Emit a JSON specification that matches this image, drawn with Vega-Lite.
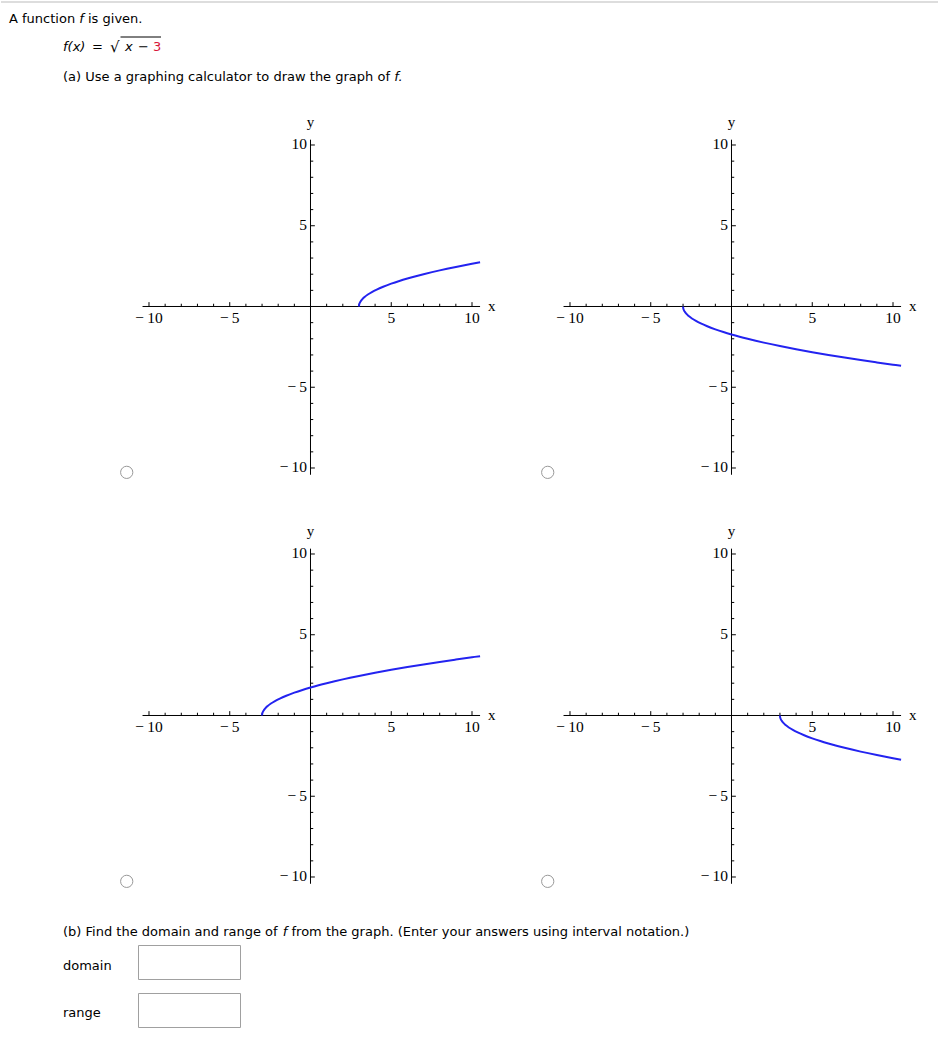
{
"$schema": "https://vega.github.io/schema/vega-lite/v6.json",
"padding": 0,
"background": "#ffffff",
"spacing": 0,
"bounds": "flush",
"align": "each",
"columns": 2,
"config": {"view": {"stroke": null}},
"datasets": {
"ticks": [{"v":-10},{"v":-9},{"v":-8},{"v":-7},{"v":-6},{"v":-5},{"v":-4},{"v":-3},{"v":-2},{"v":-1},{"v":1},{"v":2},{"v":3},{"v":4},{"v":5},{"v":6},{"v":7},{"v":8},{"v":9},{"v":10}],
"labels": [{"v":-10,"t":"−\u200910"},{"v":-5,"t":"−\u20095"},{"v":5,"t":"5"},{"v":10,"t":"10"}],
"curves": [
{"p":1,"x":3,"y":0},{"p":1,"x":3.01,"y":0.1},{"p":1,"x":3.04,"y":0.2},{"p":1,"x":3.1,"y":0.316},{"p":1,"x":3.2,"y":0.447},{"p":1,"x":3.35,"y":0.592},{"p":1,"x":3.55,"y":0.742},{"p":1,"x":3.8,"y":0.894},{"p":1,"x":4.1,"y":1.049},{"p":1,"x":4.5,"y":1.225},{"p":1,"x":5,"y":1.414},{"p":1,"x":5.5,"y":1.581},{"p":1,"x":6,"y":1.732},{"p":1,"x":7,"y":2},{"p":1,"x":8,"y":2.236},{"p":1,"x":9,"y":2.449},{"p":1,"x":10,"y":2.646},{"p":1,"x":10.5,"y":2.739},
{"p":4,"x":3,"y":0},{"p":4,"x":3.01,"y":-0.1},{"p":4,"x":3.04,"y":-0.2},{"p":4,"x":3.1,"y":-0.316},{"p":4,"x":3.2,"y":-0.447},{"p":4,"x":3.35,"y":-0.592},{"p":4,"x":3.55,"y":-0.742},{"p":4,"x":3.8,"y":-0.894},{"p":4,"x":4.1,"y":-1.049},{"p":4,"x":4.5,"y":-1.225},{"p":4,"x":5,"y":-1.414},{"p":4,"x":5.5,"y":-1.581},{"p":4,"x":6,"y":-1.732},{"p":4,"x":7,"y":-2},{"p":4,"x":8,"y":-2.236},{"p":4,"x":9,"y":-2.449},{"p":4,"x":10,"y":-2.646},{"p":4,"x":10.5,"y":-2.739},
{"p":3,"x":-3,"y":0},{"p":3,"x":-2.99,"y":0.1},{"p":3,"x":-2.96,"y":0.2},{"p":3,"x":-2.9,"y":0.316},{"p":3,"x":-2.8,"y":0.447},{"p":3,"x":-2.65,"y":0.592},{"p":3,"x":-2.45,"y":0.742},{"p":3,"x":-2.2,"y":0.894},{"p":3,"x":-1.9,"y":1.049},{"p":3,"x":-1.5,"y":1.225},{"p":3,"x":-1,"y":1.414},{"p":3,"x":-0.5,"y":1.581},{"p":3,"x":0,"y":1.732},{"p":3,"x":0.5,"y":1.871},{"p":3,"x":1,"y":2},{"p":3,"x":1.5,"y":2.121},{"p":3,"x":2,"y":2.236},{"p":3,"x":3,"y":2.449},{"p":3,"x":4,"y":2.646},{"p":3,"x":5,"y":2.828},{"p":3,"x":6,"y":3},{"p":3,"x":7,"y":3.162},{"p":3,"x":8,"y":3.317},{"p":3,"x":9,"y":3.464},{"p":3,"x":10,"y":3.606},{"p":3,"x":10.5,"y":3.674},
{"p":2,"x":-3,"y":0},{"p":2,"x":-2.99,"y":-0.1},{"p":2,"x":-2.96,"y":-0.2},{"p":2,"x":-2.9,"y":-0.316},{"p":2,"x":-2.8,"y":-0.447},{"p":2,"x":-2.65,"y":-0.592},{"p":2,"x":-2.45,"y":-0.742},{"p":2,"x":-2.2,"y":-0.894},{"p":2,"x":-1.9,"y":-1.049},{"p":2,"x":-1.5,"y":-1.225},{"p":2,"x":-1,"y":-1.414},{"p":2,"x":-0.5,"y":-1.581},{"p":2,"x":0,"y":-1.732},{"p":2,"x":0.5,"y":-1.871},{"p":2,"x":1,"y":-2},{"p":2,"x":1.5,"y":-2.121},{"p":2,"x":2,"y":-2.236},{"p":2,"x":3,"y":-2.449},{"p":2,"x":4,"y":-2.646},{"p":2,"x":5,"y":-2.828},{"p":2,"x":6,"y":-3},{"p":2,"x":7,"y":-3.162},{"p":2,"x":8,"y":-3.317},{"p":2,"x":9,"y":-3.464},{"p":2,"x":10,"y":-3.606},{"p":2,"x":10.5,"y":-3.674}
]
},
"concat": [
{
"width": 421, "height": 100,
"data": {"values": [{}]},
"layer": [
{"mark": {"type": "rule", "color": "#dddddd", "strokeWidth": 2}, "encoding": {"x": {"value": 0}, "x2": {"value": 938}, "y": {"value": 2}}},
{"mark": {"type": "text", "text": "A function", "font": "DejaVu Sans", "fontSize": 13, "color": "#000000", "align": "left", "baseline": "alphabetic"}, "encoding": {"x": {"value": 8}, "y": {"value": 23}}},
{"mark": {"type": "text", "text": "f", "font": "DejaVu Sans", "fontStyle": "italic", "fontSize": 13, "color": "#000000", "align": "left", "baseline": "alphabetic"}, "encoding": {"x": {"value": 78.3}, "y": {"value": 23}}},
{"mark": {"type": "text", "text": "is given.", "font": "DejaVu Sans", "fontSize": 13, "color": "#000000", "align": "left", "baseline": "alphabetic"}, "encoding": {"x": {"value": 87}, "y": {"value": 23}}},
{"mark": {"type": "text", "text": "f(x)", "font": "DejaVu Sans", "fontStyle": "italic", "fontSize": 13, "color": "#000000", "align": "left", "baseline": "alphabetic"}, "encoding": {"x": {"value": 62}, "y": {"value": 51}}},
{"mark": {"type": "text", "text": "=", "font": "DejaVu Sans", "fontSize": 13, "color": "#000000", "align": "left", "baseline": "alphabetic"}, "encoding": {"x": {"value": 91}, "y": {"value": 51}}},
{"mark": {"type": "text", "text": "√", "font": "DejaVu Sans", "fontSize": 15, "color": "#000000", "align": "left", "baseline": "alphabetic"}, "encoding": {"x": {"value": 109}, "y": {"value": 52}}},
{"mark": {"type": "rule", "color": "#000000", "strokeWidth": 1}, "encoding": {"x": {"value": 119.5}, "x2": {"value": 160}, "y": {"value": 37}}},
{"mark": {"type": "text", "text": "x", "font": "DejaVu Sans", "fontStyle": "italic", "fontSize": 13, "color": "#000000", "align": "left", "baseline": "alphabetic"}, "encoding": {"x": {"value": 124}, "y": {"value": 51}}},
{"mark": {"type": "text", "text": "−", "font": "DejaVu Sans", "fontSize": 13, "color": "#000000", "align": "left", "baseline": "alphabetic"}, "encoding": {"x": {"value": 137}, "y": {"value": 51}}},
{"mark": {"type": "text", "text": "3", "font": "DejaVu Sans", "fontSize": 13, "color": "#d8173b", "align": "left", "baseline": "alphabetic"}, "encoding": {"x": {"value": 152}, "y": {"value": 51}}},
{"mark": {"type": "text", "text": "(a) Use a graphing calculator to draw the graph of", "font": "DejaVu Sans", "fontSize": 13, "color": "#000000", "align": "left", "baseline": "alphabetic"}, "encoding": {"x": {"value": 62}, "y": {"value": 81}}},
{"mark": {"type": "text", "text": "f.", "font": "DejaVu Sans", "fontStyle": "italic", "fontSize": 13, "color": "#000000", "align": "left", "baseline": "alphabetic"}, "encoding": {"x": {"value": 393.2}, "y": {"value": 81}}}
]
},
{
"width": 10, "height": 10,
"data": {"values": [{}]},
"mark": {"type": "rule", "color": "#ffffff", "strokeWidth": 1, "opacity": 0},
"encoding": {"x": {"value": 2}, "x2": {"value": 4}, "y": {"value": 5}}
},
{
"width": 421, "height": 409,
"layer": [
{"data":{"values":[{}]},"mark":{"type":"rule","color":"#000000","strokeWidth":1},"encoding":{"x":{"datum":-10.4,"type":"quantitative","scale":{"domain":[-19.164,6.904],"nice":false,"zero":false},"axis":null},"x2":{"datum":10.5},"y":{"datum":0,"type":"quantitative","scale":{"domain":[-12.539,12.786],"nice":false,"zero":false},"axis":null}}},
{"data":{"values":[{}]},"mark":{"type":"rule","color":"#000000","strokeWidth":1},"encoding":{"x":{"datum":0,"type":"quantitative","scale":{"domain":[-19.164,6.904],"nice":false,"zero":false},"axis":null},"y":{"datum":-10.42,"type":"quantitative","scale":{"domain":[-12.539,12.786],"nice":false,"zero":false},"axis":null},"y2":{"datum":10.33}}},
{"data":{"name":"ticks"},"transform":[{"filter":"datum.v % 5 != 0"}],"mark":{"type":"rule","color":"#000000","strokeWidth":1},"encoding":{"x":{"field":"v","type":"quantitative","scale":{"domain":[-19.164,6.904],"nice":false,"zero":false},"axis":null},"y":{"datum":0,"type":"quantitative","scale":{"domain":[-12.539,12.786],"nice":false,"zero":false},"axis":null},"y2":{"datum":0.17}}},
{"data":{"name":"ticks"},"transform":[{"filter":"datum.v % 5 == 0"}],"mark":{"type":"rule","color":"#000000","strokeWidth":1},"encoding":{"x":{"field":"v","type":"quantitative","scale":{"domain":[-19.164,6.904],"nice":false,"zero":false},"axis":null},"y":{"datum":0,"type":"quantitative","scale":{"domain":[-12.539,12.786],"nice":false,"zero":false},"axis":null},"y2":{"datum":0.27}}},
{"data":{"name":"ticks"},"transform":[{"filter":"datum.v % 5 != 0"}],"mark":{"type":"rule","color":"#000000","strokeWidth":1},"encoding":{"y":{"field":"v","type":"quantitative","scale":{"domain":[-12.539,12.786],"nice":false,"zero":false},"axis":null},"x":{"datum":0,"type":"quantitative","scale":{"domain":[-19.164,6.904],"nice":false,"zero":false},"axis":null},"x2":{"datum":0.17}}},
{"data":{"name":"ticks"},"transform":[{"filter":"datum.v % 5 == 0"}],"mark":{"type":"rule","color":"#000000","strokeWidth":1},"encoding":{"y":{"field":"v","type":"quantitative","scale":{"domain":[-12.539,12.786],"nice":false,"zero":false},"axis":null},"x":{"datum":0,"type":"quantitative","scale":{"domain":[-19.164,6.904],"nice":false,"zero":false},"axis":null},"x2":{"datum":0.27}}},
{"data":{"name":"labels"},"mark":{"type":"text","font":"Liberation Serif","fontWeight":"normal","fontSize":15.5,"color":"#000000","align":"center","baseline":"alphabetic","dy":16.5},"encoding":{"x":{"field":"v","type":"quantitative","scale":{"domain":[-19.164,6.904],"nice":false,"zero":false},"axis":null},"y":{"datum":0,"type":"quantitative","scale":{"domain":[-12.539,12.786],"nice":false,"zero":false},"axis":null},"text":{"field":"t"}}},
{"data":{"name":"labels"},"mark":{"type":"text","font":"Liberation Serif","fontWeight":"normal","fontSize":15.5,"color":"#000000","align":"right","baseline":"alphabetic","dx":-3.5,"dy":4.5},"encoding":{"y":{"field":"v","type":"quantitative","scale":{"domain":[-12.539,12.786],"nice":false,"zero":false},"axis":null},"x":{"datum":0,"type":"quantitative","scale":{"domain":[-19.164,6.904],"nice":false,"zero":false},"axis":null},"text":{"field":"t"}}},
{"data":{"values":[{}]},"mark":{"type":"text","text":"x","font":"Liberation Serif","fontWeight":"normal","fontSize":15,"color":"#000000","align":"left","baseline":"alphabetic","dx":8,"dy":4.5},"encoding":{"x":{"datum":10.5,"type":"quantitative","scale":{"domain":[-19.164,6.904],"nice":false,"zero":false},"axis":null},"y":{"datum":0,"type":"quantitative","scale":{"domain":[-12.539,12.786],"nice":false,"zero":false},"axis":null}}},
{"data":{"values":[{}]},"mark":{"type":"text","text":"y","font":"Liberation Serif","fontWeight":"normal","fontSize":15,"color":"#000000","align":"center","baseline":"alphabetic","dy":-13},"encoding":{"x":{"datum":0,"type":"quantitative","scale":{"domain":[-19.164,6.904],"nice":false,"zero":false},"axis":null},"y":{"datum":10.33,"type":"quantitative","scale":{"domain":[-12.539,12.786],"nice":false,"zero":false},"axis":null}}},
{"data":{"name":"curves"},"transform":[{"filter":"datum.p == 1"}],"mark":{"type":"line","color":"#2323f0","strokeWidth":2,"interpolate":"monotone"},"encoding":{"x":{"field":"x","type":"quantitative","scale":{"domain":[-19.164,6.904],"nice":false,"zero":false},"axis":null},"y":{"field":"y","type":"quantitative","scale":{"domain":[-12.539,12.786],"nice":false,"zero":false},"axis":null}}},
{"data":{"values":[{}]},"mark":{"type":"point","shape":"circle","size":150,"filled":false,"fill":"#ffffff","stroke":"#999999","strokeWidth":1,"opacity":1},"encoding":{"x":{"datum":-11.38,"type":"quantitative","scale":{"domain":[-19.164,6.904],"nice":false,"zero":false},"axis":null},"y":{"datum":-10.27,"type":"quantitative","scale":{"domain":[-12.539,12.786],"nice":false,"zero":false},"axis":null}}}
]
},
{
"width": 421, "height": 409,
"layer": [
{"data":{"values":[{}]},"mark":{"type":"rule","color":"#000000","strokeWidth":1},"encoding":{"x":{"datum":-10.4,"type":"quantitative","scale":{"domain":[-19.164,6.904],"nice":false,"zero":false},"axis":null},"x2":{"datum":10.5},"y":{"datum":0,"type":"quantitative","scale":{"domain":[-12.539,12.786],"nice":false,"zero":false},"axis":null}}},
{"data":{"values":[{}]},"mark":{"type":"rule","color":"#000000","strokeWidth":1},"encoding":{"x":{"datum":0,"type":"quantitative","scale":{"domain":[-19.164,6.904],"nice":false,"zero":false},"axis":null},"y":{"datum":-10.42,"type":"quantitative","scale":{"domain":[-12.539,12.786],"nice":false,"zero":false},"axis":null},"y2":{"datum":10.33}}},
{"data":{"name":"ticks"},"transform":[{"filter":"datum.v % 5 != 0"}],"mark":{"type":"rule","color":"#000000","strokeWidth":1},"encoding":{"x":{"field":"v","type":"quantitative","scale":{"domain":[-19.164,6.904],"nice":false,"zero":false},"axis":null},"y":{"datum":0,"type":"quantitative","scale":{"domain":[-12.539,12.786],"nice":false,"zero":false},"axis":null},"y2":{"datum":0.17}}},
{"data":{"name":"ticks"},"transform":[{"filter":"datum.v % 5 == 0"}],"mark":{"type":"rule","color":"#000000","strokeWidth":1},"encoding":{"x":{"field":"v","type":"quantitative","scale":{"domain":[-19.164,6.904],"nice":false,"zero":false},"axis":null},"y":{"datum":0,"type":"quantitative","scale":{"domain":[-12.539,12.786],"nice":false,"zero":false},"axis":null},"y2":{"datum":0.27}}},
{"data":{"name":"ticks"},"transform":[{"filter":"datum.v % 5 != 0"}],"mark":{"type":"rule","color":"#000000","strokeWidth":1},"encoding":{"y":{"field":"v","type":"quantitative","scale":{"domain":[-12.539,12.786],"nice":false,"zero":false},"axis":null},"x":{"datum":0,"type":"quantitative","scale":{"domain":[-19.164,6.904],"nice":false,"zero":false},"axis":null},"x2":{"datum":0.17}}},
{"data":{"name":"ticks"},"transform":[{"filter":"datum.v % 5 == 0"}],"mark":{"type":"rule","color":"#000000","strokeWidth":1},"encoding":{"y":{"field":"v","type":"quantitative","scale":{"domain":[-12.539,12.786],"nice":false,"zero":false},"axis":null},"x":{"datum":0,"type":"quantitative","scale":{"domain":[-19.164,6.904],"nice":false,"zero":false},"axis":null},"x2":{"datum":0.27}}},
{"data":{"name":"labels"},"mark":{"type":"text","font":"Liberation Serif","fontWeight":"normal","fontSize":15.5,"color":"#000000","align":"center","baseline":"alphabetic","dy":16.5},"encoding":{"x":{"field":"v","type":"quantitative","scale":{"domain":[-19.164,6.904],"nice":false,"zero":false},"axis":null},"y":{"datum":0,"type":"quantitative","scale":{"domain":[-12.539,12.786],"nice":false,"zero":false},"axis":null},"text":{"field":"t"}}},
{"data":{"name":"labels"},"mark":{"type":"text","font":"Liberation Serif","fontWeight":"normal","fontSize":15.5,"color":"#000000","align":"right","baseline":"alphabetic","dx":-3.5,"dy":4.5},"encoding":{"y":{"field":"v","type":"quantitative","scale":{"domain":[-12.539,12.786],"nice":false,"zero":false},"axis":null},"x":{"datum":0,"type":"quantitative","scale":{"domain":[-19.164,6.904],"nice":false,"zero":false},"axis":null},"text":{"field":"t"}}},
{"data":{"values":[{}]},"mark":{"type":"text","text":"x","font":"Liberation Serif","fontWeight":"normal","fontSize":15,"color":"#000000","align":"left","baseline":"alphabetic","dx":8,"dy":4.5},"encoding":{"x":{"datum":10.5,"type":"quantitative","scale":{"domain":[-19.164,6.904],"nice":false,"zero":false},"axis":null},"y":{"datum":0,"type":"quantitative","scale":{"domain":[-12.539,12.786],"nice":false,"zero":false},"axis":null}}},
{"data":{"values":[{}]},"mark":{"type":"text","text":"y","font":"Liberation Serif","fontWeight":"normal","fontSize":15,"color":"#000000","align":"center","baseline":"alphabetic","dy":-13},"encoding":{"x":{"datum":0,"type":"quantitative","scale":{"domain":[-19.164,6.904],"nice":false,"zero":false},"axis":null},"y":{"datum":10.33,"type":"quantitative","scale":{"domain":[-12.539,12.786],"nice":false,"zero":false},"axis":null}}},
{"data":{"name":"curves"},"transform":[{"filter":"datum.p == 2"}],"mark":{"type":"line","color":"#2323f0","strokeWidth":2,"interpolate":"monotone"},"encoding":{"x":{"field":"x","type":"quantitative","scale":{"domain":[-19.164,6.904],"nice":false,"zero":false},"axis":null},"y":{"field":"y","type":"quantitative","scale":{"domain":[-12.539,12.786],"nice":false,"zero":false},"axis":null}}},
{"data":{"values":[{}]},"mark":{"type":"point","shape":"circle","size":150,"filled":false,"fill":"#ffffff","stroke":"#999999","strokeWidth":1,"opacity":1},"encoding":{"x":{"datum":-11.38,"type":"quantitative","scale":{"domain":[-19.164,6.904],"nice":false,"zero":false},"axis":null},"y":{"datum":-10.27,"type":"quantitative","scale":{"domain":[-12.539,12.786],"nice":false,"zero":false},"axis":null}}}
]
},
{
"width": 421, "height": 409,
"layer": [
{"data":{"values":[{}]},"mark":{"type":"rule","color":"#000000","strokeWidth":1},"encoding":{"x":{"datum":-10.4,"type":"quantitative","scale":{"domain":[-19.164,6.904],"nice":false,"zero":false},"axis":null},"x2":{"datum":10.5},"y":{"datum":0,"type":"quantitative","scale":{"domain":[-12.539,12.786],"nice":false,"zero":false},"axis":null}}},
{"data":{"values":[{}]},"mark":{"type":"rule","color":"#000000","strokeWidth":1},"encoding":{"x":{"datum":0,"type":"quantitative","scale":{"domain":[-19.164,6.904],"nice":false,"zero":false},"axis":null},"y":{"datum":-10.42,"type":"quantitative","scale":{"domain":[-12.539,12.786],"nice":false,"zero":false},"axis":null},"y2":{"datum":10.33}}},
{"data":{"name":"ticks"},"transform":[{"filter":"datum.v % 5 != 0"}],"mark":{"type":"rule","color":"#000000","strokeWidth":1},"encoding":{"x":{"field":"v","type":"quantitative","scale":{"domain":[-19.164,6.904],"nice":false,"zero":false},"axis":null},"y":{"datum":0,"type":"quantitative","scale":{"domain":[-12.539,12.786],"nice":false,"zero":false},"axis":null},"y2":{"datum":0.17}}},
{"data":{"name":"ticks"},"transform":[{"filter":"datum.v % 5 == 0"}],"mark":{"type":"rule","color":"#000000","strokeWidth":1},"encoding":{"x":{"field":"v","type":"quantitative","scale":{"domain":[-19.164,6.904],"nice":false,"zero":false},"axis":null},"y":{"datum":0,"type":"quantitative","scale":{"domain":[-12.539,12.786],"nice":false,"zero":false},"axis":null},"y2":{"datum":0.27}}},
{"data":{"name":"ticks"},"transform":[{"filter":"datum.v % 5 != 0"}],"mark":{"type":"rule","color":"#000000","strokeWidth":1},"encoding":{"y":{"field":"v","type":"quantitative","scale":{"domain":[-12.539,12.786],"nice":false,"zero":false},"axis":null},"x":{"datum":0,"type":"quantitative","scale":{"domain":[-19.164,6.904],"nice":false,"zero":false},"axis":null},"x2":{"datum":0.17}}},
{"data":{"name":"ticks"},"transform":[{"filter":"datum.v % 5 == 0"}],"mark":{"type":"rule","color":"#000000","strokeWidth":1},"encoding":{"y":{"field":"v","type":"quantitative","scale":{"domain":[-12.539,12.786],"nice":false,"zero":false},"axis":null},"x":{"datum":0,"type":"quantitative","scale":{"domain":[-19.164,6.904],"nice":false,"zero":false},"axis":null},"x2":{"datum":0.27}}},
{"data":{"name":"labels"},"mark":{"type":"text","font":"Liberation Serif","fontWeight":"normal","fontSize":15.5,"color":"#000000","align":"center","baseline":"alphabetic","dy":16.5},"encoding":{"x":{"field":"v","type":"quantitative","scale":{"domain":[-19.164,6.904],"nice":false,"zero":false},"axis":null},"y":{"datum":0,"type":"quantitative","scale":{"domain":[-12.539,12.786],"nice":false,"zero":false},"axis":null},"text":{"field":"t"}}},
{"data":{"name":"labels"},"mark":{"type":"text","font":"Liberation Serif","fontWeight":"normal","fontSize":15.5,"color":"#000000","align":"right","baseline":"alphabetic","dx":-3.5,"dy":4.5},"encoding":{"y":{"field":"v","type":"quantitative","scale":{"domain":[-12.539,12.786],"nice":false,"zero":false},"axis":null},"x":{"datum":0,"type":"quantitative","scale":{"domain":[-19.164,6.904],"nice":false,"zero":false},"axis":null},"text":{"field":"t"}}},
{"data":{"values":[{}]},"mark":{"type":"text","text":"x","font":"Liberation Serif","fontWeight":"normal","fontSize":15,"color":"#000000","align":"left","baseline":"alphabetic","dx":8,"dy":4.5},"encoding":{"x":{"datum":10.5,"type":"quantitative","scale":{"domain":[-19.164,6.904],"nice":false,"zero":false},"axis":null},"y":{"datum":0,"type":"quantitative","scale":{"domain":[-12.539,12.786],"nice":false,"zero":false},"axis":null}}},
{"data":{"values":[{}]},"mark":{"type":"text","text":"y","font":"Liberation Serif","fontWeight":"normal","fontSize":15,"color":"#000000","align":"center","baseline":"alphabetic","dy":-13},"encoding":{"x":{"datum":0,"type":"quantitative","scale":{"domain":[-19.164,6.904],"nice":false,"zero":false},"axis":null},"y":{"datum":10.33,"type":"quantitative","scale":{"domain":[-12.539,12.786],"nice":false,"zero":false},"axis":null}}},
{"data":{"name":"curves"},"transform":[{"filter":"datum.p == 3"}],"mark":{"type":"line","color":"#2323f0","strokeWidth":2,"interpolate":"monotone"},"encoding":{"x":{"field":"x","type":"quantitative","scale":{"domain":[-19.164,6.904],"nice":false,"zero":false},"axis":null},"y":{"field":"y","type":"quantitative","scale":{"domain":[-12.539,12.786],"nice":false,"zero":false},"axis":null}}},
{"data":{"values":[{}]},"mark":{"type":"point","shape":"circle","size":150,"filled":false,"fill":"#ffffff","stroke":"#999999","strokeWidth":1,"opacity":1},"encoding":{"x":{"datum":-11.38,"type":"quantitative","scale":{"domain":[-19.164,6.904],"nice":false,"zero":false},"axis":null},"y":{"datum":-10.27,"type":"quantitative","scale":{"domain":[-12.539,12.786],"nice":false,"zero":false},"axis":null}}}
]
},
{
"width": 421, "height": 409,
"layer": [
{"data":{"values":[{}]},"mark":{"type":"rule","color":"#000000","strokeWidth":1},"encoding":{"x":{"datum":-10.4,"type":"quantitative","scale":{"domain":[-19.164,6.904],"nice":false,"zero":false},"axis":null},"x2":{"datum":10.5},"y":{"datum":0,"type":"quantitative","scale":{"domain":[-12.539,12.786],"nice":false,"zero":false},"axis":null}}},
{"data":{"values":[{}]},"mark":{"type":"rule","color":"#000000","strokeWidth":1},"encoding":{"x":{"datum":0,"type":"quantitative","scale":{"domain":[-19.164,6.904],"nice":false,"zero":false},"axis":null},"y":{"datum":-10.42,"type":"quantitative","scale":{"domain":[-12.539,12.786],"nice":false,"zero":false},"axis":null},"y2":{"datum":10.33}}},
{"data":{"name":"ticks"},"transform":[{"filter":"datum.v % 5 != 0"}],"mark":{"type":"rule","color":"#000000","strokeWidth":1},"encoding":{"x":{"field":"v","type":"quantitative","scale":{"domain":[-19.164,6.904],"nice":false,"zero":false},"axis":null},"y":{"datum":0,"type":"quantitative","scale":{"domain":[-12.539,12.786],"nice":false,"zero":false},"axis":null},"y2":{"datum":0.17}}},
{"data":{"name":"ticks"},"transform":[{"filter":"datum.v % 5 == 0"}],"mark":{"type":"rule","color":"#000000","strokeWidth":1},"encoding":{"x":{"field":"v","type":"quantitative","scale":{"domain":[-19.164,6.904],"nice":false,"zero":false},"axis":null},"y":{"datum":0,"type":"quantitative","scale":{"domain":[-12.539,12.786],"nice":false,"zero":false},"axis":null},"y2":{"datum":0.27}}},
{"data":{"name":"ticks"},"transform":[{"filter":"datum.v % 5 != 0"}],"mark":{"type":"rule","color":"#000000","strokeWidth":1},"encoding":{"y":{"field":"v","type":"quantitative","scale":{"domain":[-12.539,12.786],"nice":false,"zero":false},"axis":null},"x":{"datum":0,"type":"quantitative","scale":{"domain":[-19.164,6.904],"nice":false,"zero":false},"axis":null},"x2":{"datum":0.17}}},
{"data":{"name":"ticks"},"transform":[{"filter":"datum.v % 5 == 0"}],"mark":{"type":"rule","color":"#000000","strokeWidth":1},"encoding":{"y":{"field":"v","type":"quantitative","scale":{"domain":[-12.539,12.786],"nice":false,"zero":false},"axis":null},"x":{"datum":0,"type":"quantitative","scale":{"domain":[-19.164,6.904],"nice":false,"zero":false},"axis":null},"x2":{"datum":0.27}}},
{"data":{"name":"labels"},"mark":{"type":"text","font":"Liberation Serif","fontWeight":"normal","fontSize":15.5,"color":"#000000","align":"center","baseline":"alphabetic","dy":16.5},"encoding":{"x":{"field":"v","type":"quantitative","scale":{"domain":[-19.164,6.904],"nice":false,"zero":false},"axis":null},"y":{"datum":0,"type":"quantitative","scale":{"domain":[-12.539,12.786],"nice":false,"zero":false},"axis":null},"text":{"field":"t"}}},
{"data":{"name":"labels"},"mark":{"type":"text","font":"Liberation Serif","fontWeight":"normal","fontSize":15.5,"color":"#000000","align":"right","baseline":"alphabetic","dx":-3.5,"dy":4.5},"encoding":{"y":{"field":"v","type":"quantitative","scale":{"domain":[-12.539,12.786],"nice":false,"zero":false},"axis":null},"x":{"datum":0,"type":"quantitative","scale":{"domain":[-19.164,6.904],"nice":false,"zero":false},"axis":null},"text":{"field":"t"}}},
{"data":{"values":[{}]},"mark":{"type":"text","text":"x","font":"Liberation Serif","fontWeight":"normal","fontSize":15,"color":"#000000","align":"left","baseline":"alphabetic","dx":8,"dy":4.5},"encoding":{"x":{"datum":10.5,"type":"quantitative","scale":{"domain":[-19.164,6.904],"nice":false,"zero":false},"axis":null},"y":{"datum":0,"type":"quantitative","scale":{"domain":[-12.539,12.786],"nice":false,"zero":false},"axis":null}}},
{"data":{"values":[{}]},"mark":{"type":"text","text":"y","font":"Liberation Serif","fontWeight":"normal","fontSize":15,"color":"#000000","align":"center","baseline":"alphabetic","dy":-13},"encoding":{"x":{"datum":0,"type":"quantitative","scale":{"domain":[-19.164,6.904],"nice":false,"zero":false},"axis":null},"y":{"datum":10.33,"type":"quantitative","scale":{"domain":[-12.539,12.786],"nice":false,"zero":false},"axis":null}}},
{"data":{"name":"curves"},"transform":[{"filter":"datum.p == 4"}],"mark":{"type":"line","color":"#2323f0","strokeWidth":2,"interpolate":"monotone"},"encoding":{"x":{"field":"x","type":"quantitative","scale":{"domain":[-19.164,6.904],"nice":false,"zero":false},"axis":null},"y":{"field":"y","type":"quantitative","scale":{"domain":[-12.539,12.786],"nice":false,"zero":false},"axis":null}}},
{"data":{"values":[{}]},"mark":{"type":"point","shape":"circle","size":150,"filled":false,"fill":"#ffffff","stroke":"#999999","strokeWidth":1,"opacity":1},"encoding":{"x":{"datum":-11.38,"type":"quantitative","scale":{"domain":[-19.164,6.904],"nice":false,"zero":false},"axis":null},"y":{"datum":-10.27,"type":"quantitative","scale":{"domain":[-12.539,12.786],"nice":false,"zero":false},"axis":null}}}
]
},
{
"width": 421, "height": 126,
"data": {"values": [{}]},
"layer": [
{"mark": {"type": "text", "text": "(b) Find the domain and range of", "font": "DejaVu Sans", "fontSize": 13, "color": "#000000", "align": "left", "baseline": "alphabetic"}, "encoding": {"x": {"value": 62}, "y": {"value": 18}}},
{"mark": {"type": "text", "text": "f", "font": "DejaVu Sans", "fontStyle": "italic", "fontSize": 13, "color": "#000000", "align": "left", "baseline": "alphabetic"}, "encoding": {"x": {"value": 281.8}, "y": {"value": 18}}},
{"mark": {"type": "text", "text": "from the graph. (Enter your answers using interval notation.)", "font": "DejaVu Sans", "fontSize": 13, "color": "#000000", "align": "left", "baseline": "alphabetic"}, "encoding": {"x": {"value": 290.5}, "y": {"value": 18}}},
{"mark": {"type": "text", "text": "domain", "font": "DejaVu Sans", "fontSize": 13, "color": "#000000", "align": "left", "baseline": "alphabetic"}, "encoding": {"x": {"value": 62}, "y": {"value": 51.5}}},
{"mark": {"type": "rect", "fill": "#ffffff", "stroke": "#a0a0a0", "strokeWidth": 1}, "encoding": {"x": {"value": 137.5}, "x2": {"value": 239.5}, "y": {"value": 27.5}, "y2": {"value": 61.5}}},
{"mark": {"type": "text", "text": "range", "font": "DejaVu Sans", "fontSize": 13, "color": "#000000", "align": "left", "baseline": "alphabetic"}, "encoding": {"x": {"value": 62}, "y": {"value": 98.5}}},
{"mark": {"type": "rect", "fill": "#ffffff", "stroke": "#a0a0a0", "strokeWidth": 1}, "encoding": {"x": {"value": 137.5}, "x2": {"value": 239.5}, "y": {"value": 75.5}, "y2": {"value": 109.5}}}
]
},
{
"width": 10, "height": 10,
"data": {"values": [{}]},
"mark": {"type": "rule", "color": "#ffffff", "strokeWidth": 1, "opacity": 0},
"encoding": {"x": {"value": 2}, "x2": {"value": 4}, "y": {"value": 5}}
}
]
}
